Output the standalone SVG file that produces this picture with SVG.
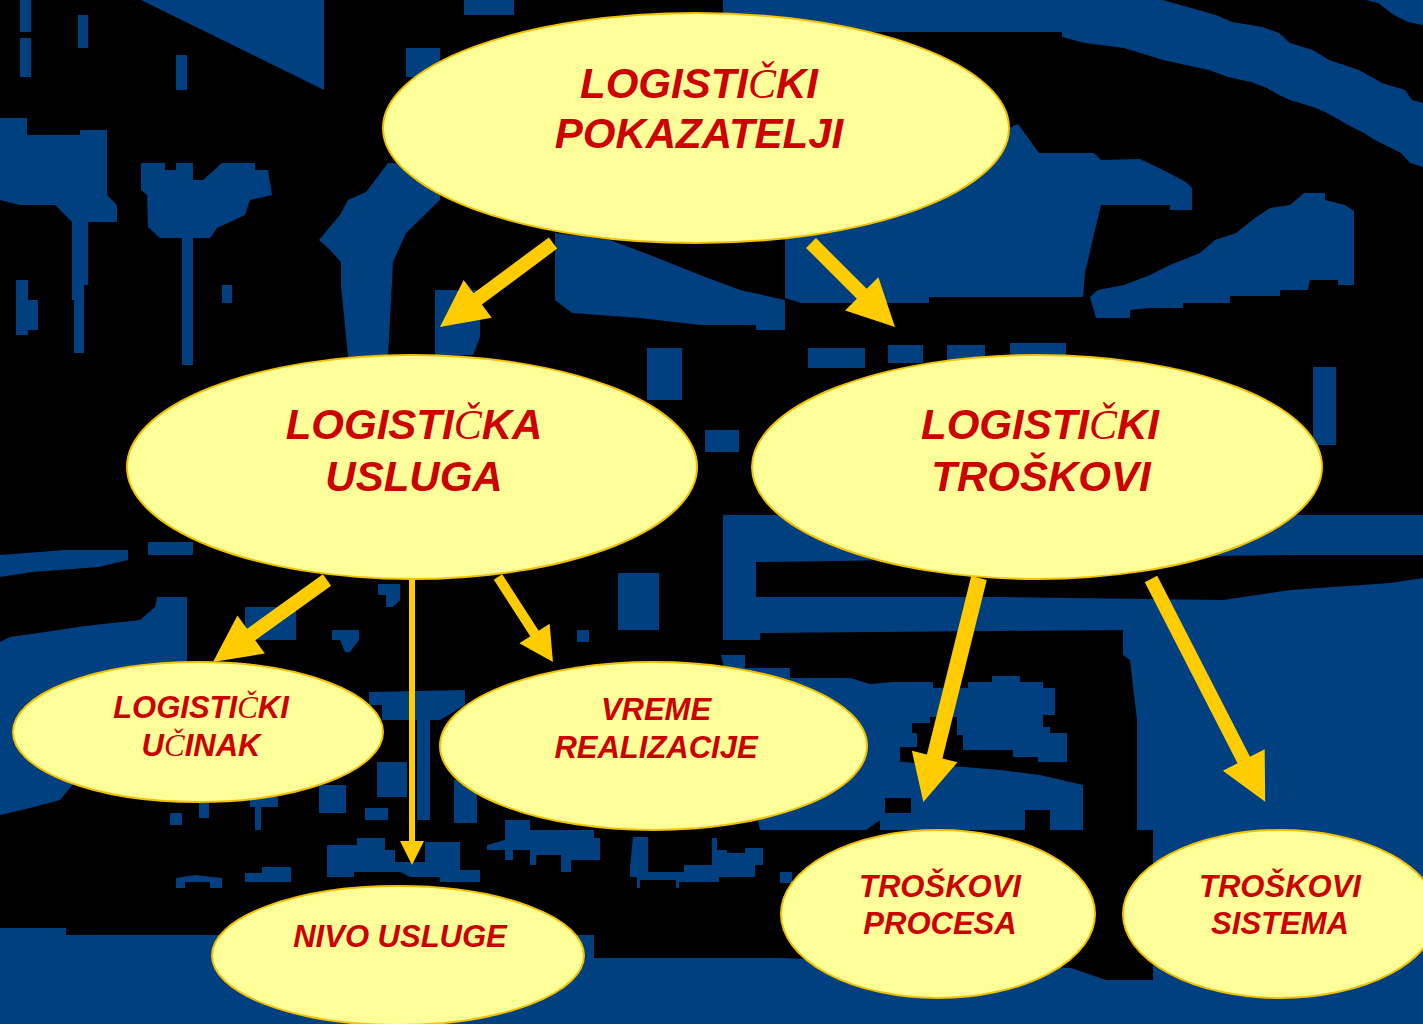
<svg xmlns="http://www.w3.org/2000/svg" width="1423" height="1024" viewBox="0 0 1423 1024">
<style>
.b{fill:#003F80}
.k{fill:#000}
.node ellipse{fill:#FFFF99;stroke:#F2C200;stroke-width:2}
.node text{font-family:"Liberation Sans",Arial,sans-serif;font-weight:bold;font-style:italic;fill:#CC0000;text-anchor:middle}
.t1{font-size:42px}
.t2{font-size:31px}
.c{font-family:"Liberation Serif","Times New Roman",serif;font-weight:normal}
.arr{fill:#FFCC00}
</style>
<rect width="1423" height="1024" fill="#000"/>
<g id="background">
<polygon class="b" points="141,0 324,0 324,90"/>
<rect class="b" x="20" y="0" width="11" height="32"/>
<rect class="b" x="20" y="38" width="11" height="39"/>
<rect class="b" x="78" y="15" width="10" height="33"/>
<rect class="b" x="176" y="55" width="11" height="35"/>
<rect class="b" x="464" y="0" width="50" height="15"/>
<rect class="b" x="406" y="48" width="34" height="29"/>
<polygon class="b" points="0,118 27,118 27,135 80,135 80,130 107,130 107,195 117,205 117,222 72,222 55,205 20,205 0,200"/>
<polygon class="b" points="72,222 88,222 88,285 84,285 84,353 74,353 74,300 72,300"/>
<polygon class="b" points="141,163 165,163 165,170 176,170 176,163 193,163 193,180 203,180 222,163 255,163 255,170 268,170 272,195 250,200 245,215 217,228 210,238 160,238 148,227 147,195 141,190"/>
<rect class="b" x="182" y="238" width="11" height="127"/>
<rect class="b" x="16" y="280" width="12" height="55"/>
<rect class="b" x="28" y="300" width="10" height="30"/>
<rect class="b" x="222" y="285" width="10" height="18"/>
<polygon class="b" points="319,240 340,215 348,200 366,192 388,163 440,163 440,200 406,233 393,262 388,357 348,357 341,285 341,262 330,250"/>
<polygon class="b" points="435,290 480,290 480,337 473,355 435,355"/>
<polygon class="b" points="555,233 610,240 650,255 700,275 740,290 785,300 785,330 756,330 756,325 700,325 640,318 572,313 555,300"/>
<polygon class="b" points="785,230 1018,124 1039,153 1094,153 1101,160 1140,159 1163,170 1186,182 1192,188 1192,210 1170,210 1170,205 1101,205 1095,230 1085,273 1083,297 929,297 929,303 801,303 785,298"/>
<polygon class="b" points="723,0 1163,0 1191,8 1216,15 1232,22 1262,27 1279,33 1290,43 1313,50 1329,60 1359,70 1382,83 1405,90 1412,100 1423,103 1423,167 1410,163 1401,153 1389,147 1375,140 1364,133 1348,125 1336,118 1325,112 1313,107 1290,100 1279,95 1267,88 1251,82 1228,77 1209,70 1186,65 1163,60 1147,55 1124,48 1085,43 1062,37 1062,32 740,32 723,12"/>
<polygon class="b" points="1366,0 1423,0 1423,25 1408,22 1394,15 1378,3"/>
<polygon class="b" points="1090,297 1098,290 1124,285 1150,275 1170,265 1200,253 1215,240 1236,233 1255,218 1270,208 1290,205 1304,193 1325,193 1325,200 1345,205 1354,211 1354,285 1338,285 1338,280 1310,280 1308,290 1280,290 1280,296 1230,296 1230,303 1183,303 1183,308 1150,308 1130,310 1130,318 1096,318"/>
<rect class="b" x="808" y="348" width="57" height="20"/>
<rect class="b" x="888" y="345" width="35" height="18"/>
<rect class="b" x="947" y="345" width="38" height="15"/>
<rect class="b" x="1010" y="343" width="56" height="20"/>
<rect class="b" x="1313" y="367" width="23" height="78"/>
<rect class="b" x="647" y="348" width="35" height="52"/>
<rect class="b" x="705" y="430" width="34" height="22"/>
<polygon class="b" points="723,515 1423,515 1423,1024 0,1024 0,928 66,928 66,935 594,935 594,958 780,958 1071,968 1106,980 1153,980 1153,830 1137,830 1137,720 1130,660 1123,655 1123,630 760,633 760,640 723,640"/>
<polygon class="k" points="756,562 1296,555 1423,555 1423,578 1390,583 1290,590 1223,600 1000,597 756,597"/>
<polygon class="b" points="0,555 65,550 128,550 128,560 99,567 32,572 0,577"/>
<rect class="b" x="148" y="542" width="45" height="13"/>
<polygon class="b" points="0,642 10,637 45,632 85,626 140,620 155,607 157,597 187,597 187,680 150,690 60,800 30,808 0,815"/>
<rect class="b" x="245" y="607" width="51" height="33"/>
<polygon class="b" points="332,630 359,630 359,640 350,652 345,652 340,640 332,640"/>
<polygon class="b" points="378,584 400,584 400,600 393,607 386,607 386,595 378,595"/>
<rect class="b" x="618" y="573" width="41" height="57"/>
<rect class="b" x="577" y="630" width="12" height="12"/>
<rect class="b" x="631" y="620" width="21" height="8"/>
<polygon class="b" points="369,692 465,690 465,705 440,720 430,720 430,820 417,820 417,720 382,720 382,705 369,705"/>
<rect class="b" x="377" y="762" width="30" height="35"/>
<rect class="b" x="319" y="785" width="27" height="28"/>
<rect class="b" x="365" y="808" width="23" height="12"/>
<polygon class="b" points="721,655 745,655 745,668 790,668 790,678 850,678 870,684 893,682 933,682 933,688 968,688 968,682 992,682 992,676 1020,676 1020,682 1043,682 1043,688 1055,688 1055,715 1043,715 1043,727 1050,727 1050,733 1067,733 1067,762 1038,762 1038,757 1013,757 1013,750 963,750 963,735 957,735 957,717 930,717 930,723 912,723 912,733 917,733 917,747 900,747 900,790 890,800 880,820 866,830 800,830 760,830"/>
<polygon class="b" points="880,760 1000,770 1040,775 1083,785 1083,830 1050,830 1050,810 1025,810 1025,830 880,830"/>
<rect class="k" x="885" y="798" width="26" height="15"/>
<rect class="b" x="780" y="813" width="50" height="14"/>
<rect class="b" x="780" y="872" width="12" height="11"/>
<polygon class="b" points="327,845 357,845 357,838 385,838 385,850 395,850 395,862 425,862 425,842 460,842 460,870 480,870 480,882 440,882 440,877 410,877 400,872 354,872 354,877 327,877"/>
<rect class="b" x="454" y="780" width="23" height="43"/>
<polygon class="b" points="505,820 530,820 530,830 594,830 594,838 600,838 600,860 571,860 571,872 561,872 561,855 536,855 536,865 530,865 530,850 513,850 513,860 505,860 505,850 487,850 487,845 505,840"/>
<polygon class="b" points="633,837 648,837 648,872 684,872 684,865 712,865 712,838 717,838 717,850 727,850 727,853 745,853 745,848 763,848 763,865 755,865 755,877 719,877 719,882 679,882 679,888 676,888 676,880 640,880 640,888 637,888 637,877 630,877 630,867"/>
<polygon class="b" points="176,878 195,875 222,878 222,888 210,888 210,882 185,882 185,888 176,888"/>
<polygon class="b" points="245,873 262,873 262,867 291,867 291,882 245,882"/>
<rect class="b" x="170" y="813" width="12" height="12"/>
<rect class="b" x="199" y="803" width="10" height="15"/>
<rect class="b" x="250" y="797" width="28" height="10"/>
<rect class="b" x="255" y="807" width="6" height="23"/>
</g>
<g id="connectors">
<path class="arr" transform="translate(553,243) rotate(143.4)" d="M0,-7H93.8V-23.5L140.8,0L93.8,23.5V7H0Z"/>
<path class="arr" transform="translate(811,243) rotate(45)" d="M0,-7H71.8V-23.5L118.8,0L71.8,23.5V7H0Z"/>
<path class="arr" transform="translate(327,580) rotate(144.3)" d="M0,-7H93.4V-23.5L140.4,0L93.4,23.5V7H0Z"/>
<path class="arr" d="M409,578H415V841H424L412,865L400,841H409Z"/>
<path class="arr" transform="translate(498,577) rotate(57.1)" d="M0,-5H67.2V-18L101.2,0L67.2,18V5H0Z"/>
<path class="arr" transform="translate(979,578) rotate(103.95)" d="M0,-8H183.9V-23.5L230.9,0L183.9,23.5V8H0Z"/>
<path class="arr" transform="translate(1151,579) rotate(62.87)" d="M0,-7H203.4V-23.5L250.4,0L203.4,23.5V7H0Z"/>
</g>
<g id="node-pokazatelji" class="node">
<ellipse cx="696" cy="128" rx="313" ry="115"/>
<text class="t1" x="699" y="98">LOGISTI<tspan class="c">Č</tspan>KI</text>
<text class="t1" x="699" y="148">POKAZATELJI</text>
</g>
<g id="node-usluga" class="node">
<ellipse cx="412" cy="467" rx="285" ry="112"/>
<text class="t1" x="414" y="439">LOGISTI<tspan class="c">Č</tspan>KA</text>
<text class="t1" x="414" y="491">USLUGA</text>
</g>
<g id="node-troskovi" class="node">
<ellipse cx="1037" cy="467" rx="285" ry="112"/>
<text class="t1" x="1040" y="439">LOGISTI<tspan class="c">Č</tspan>KI</text>
<text class="t1" x="1041" y="491">TROŠKOVI</text>
</g>
<g id="node-ucinak" class="node">
<ellipse cx="198" cy="732" rx="185" ry="70"/>
<text class="t2" x="201" y="718">LOGISTI<tspan class="c">Č</tspan>KI</text>
<text class="t2" x="201" y="756">U<tspan class="c">Č</tspan>INAK</text>
</g>
<g id="node-vreme" class="node">
<ellipse cx="653.5" cy="746" rx="213.5" ry="84"/>
<text class="t2" x="656" y="720">VREME</text>
<text class="t2" x="656" y="758">REALIZACIJE</text>
</g>
<g id="node-nivo" class="node">
<ellipse cx="398" cy="955.5" rx="186" ry="69.5"/>
<text class="t2" x="400" y="947">NIVO USLUGE</text>
</g>
<g id="node-procesa" class="node">
<ellipse cx="938" cy="914" rx="157" ry="84"/>
<text class="t2" x="940" y="897">TROŠKOVI</text>
<text class="t2" x="940" y="934">PROCESA</text>
</g>
<g id="node-sistema" class="node">
<ellipse cx="1280" cy="914" rx="157" ry="84"/>
<text class="t2" x="1280" y="897">TROŠKOVI</text>
<text class="t2" x="1280" y="934">SISTEMA</text>
</g>
</svg>
